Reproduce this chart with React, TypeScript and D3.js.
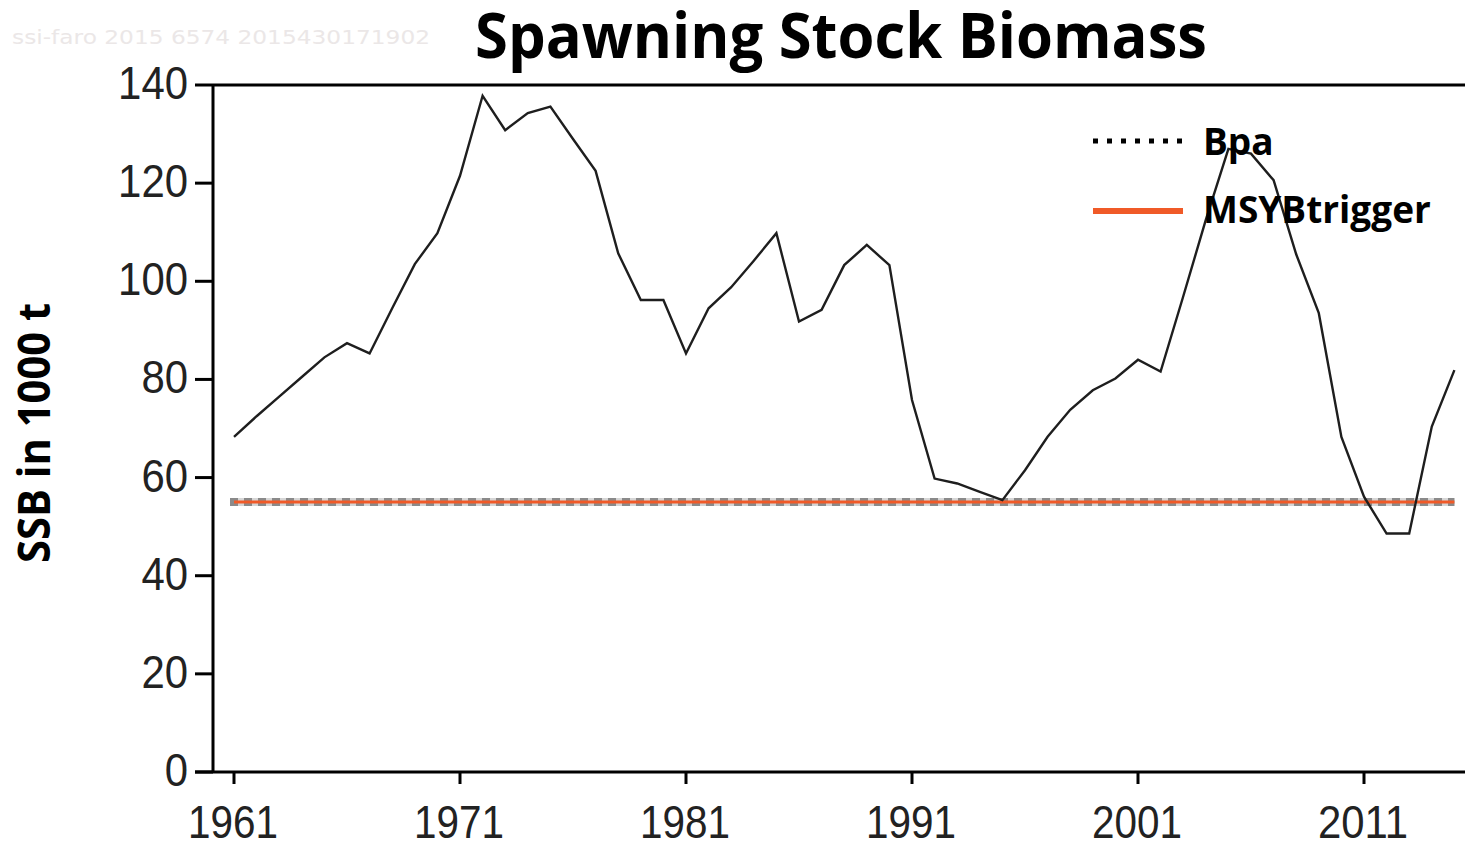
import React, { useEffect, useRef } from 'react';
import * as d3 from 'd3';

// SSB (1000 t) by year
const years: number[] = d3.range(1961, 2016);
const ssb: number[] = [
    68.3, 72.5, 76.5, 80.5, 84.5, 87.4, 85.3, 94.5, 103.5, 109.8,
    121.5, 137.8, 130.8, 134.3, 135.6, 129.0, 122.5, 105.7, 96.2, 96.2,
    85.3, 94.5, 98.8, 104.2, 109.8, 91.8, 94.2, 103.3, 107.4, 103.3,
    75.8, 59.8, 58.8, 57.1, 55.4, 61.5, 68.3, 73.8, 77.8, 80.2,
    84.0, 81.6, 96.9, 112.5, 127.0, 126.0, 120.6, 105.5, 93.5, 68.3,
    56.1, 48.6, 48.6, 70.4, 81.9,
];
const bpa = 55;
const msyBtrigger = 55;
const yTicks: number[] = [0, 20, 40, 60, 80, 100, 120, 140];
const xTicks: number[] = [1961, 1971, 1981, 1991, 2001, 2011];
const legendLabels: string[] = ['Bpa', 'MSYBtrigger'];

const W = 1465;
const H = 843;
const ORANGE = '#F05A28';

const App: React.FC = () => {
    const svgRef = useRef<SVGSVGElement>(null);

    useEffect(() => {
        if (!svgRef.current) return;
        const svg = d3.select(svgRef.current);
        svg.selectAll('*').remove();

        const left = 213;
        const top = 85;
        const bottom = 772;

        const x = d3.scaleLinear().domain([1961, 2011]).range([234, 1364]);
        const y = d3.scaleLinear().domain([0, 140]).range([bottom, top]);

        // watermark
        svg.append('text')
            .attr('x', 12).attr('y', 44)
            .attr('textLength', 418).attr('lengthAdjust', 'spacingAndGlyphs')
            .style('font-family', 'DejaVu Sans').style('font-size', '20px')
            .style('fill', '#ebe7e7')
            .text('ssi-faro  2015  6574  2015430171902');

        // title
        svg.append('text')
            .attr('x', 475).attr('y', 58)
            .attr('textLength', 732).attr('lengthAdjust', 'spacingAndGlyphs')
            .style('font-family', 'Open Sans').style('font-weight', 'bold').style('font-size', '62px')
            .style('fill', '#000')
            .text('Spawning Stock Biomass');

        // y axis label
        svg.append('text')
            .attr('transform', 'translate(50,433) rotate(-90)')
            .attr('text-anchor', 'middle')
            .attr('textLength', 260).attr('lengthAdjust', 'spacingAndGlyphs')
            .style('font-family', 'Open Sans').style('font-weight', 'bold').style('font-size', '44px')
            .style('fill', '#000')
            .text('SSB in 1000 t');

        // reference lines
        svg.append('line')
            .attr('x1', x(1961)).attr('x2', x(2015))
            .attr('y1', y(bpa)).attr('y2', y(bpa))
            .attr('stroke', '#d6d6d6').attr('stroke-width', 8);
        svg.append('line')
            .attr('x1', x(1961) - 4).attr('x2', x(2015))
            .attr('y1', y(bpa)).attr('y2', y(bpa))
            .attr('stroke', '#8a8a8a').attr('stroke-width', 8)
            .attr('stroke-dasharray', '8,6');
        svg.append('line')
            .attr('x1', x(1961)).attr('x2', x(2015))
            .attr('y1', y(msyBtrigger)).attr('y2', y(msyBtrigger))
            .attr('stroke', ORANGE).attr('stroke-width', 3);

        // SSB line
        const line = d3.line<number>()
            .x((_, i) => x(years[i]))
            .y(d => y(d));
        svg.append('path')
            .datum(ssb)
            .attr('d', line)
            .attr('fill', 'none')
            .attr('stroke', '#1e1e1e')
            .attr('stroke-width', 2.4)
            .attr('stroke-linejoin', 'miter');

        // frame: left axis, top line, bottom axis
        const ax = svg.append('g').attr('stroke', '#000').attr('stroke-width', 3);
        ax.append('line').attr('x1', left).attr('x2', left).attr('y1', top).attr('y2', bottom);
        ax.append('line').attr('x1', left).attr('x2', W).attr('y1', top).attr('y2', top);
        ax.append('line').attr('x1', 195).attr('x2', W).attr('y1', bottom).attr('y2', bottom);

        ax.selectAll('line.yt')
            .data(yTicks)
            .enter().append('line')
            .attr('class', 'yt')
            .attr('x1', 195).attr('x2', left)
            .attr('y1', d => y(d)).attr('y2', d => y(d));

        ax.selectAll('line.xt')
            .data(xTicks)
            .enter().append('line')
            .attr('class', 'xt')
            .attr('x1', d => x(d)).attr('x2', d => x(d))
            .attr('y1', bottom).attr('y2', bottom + 12);

        svg.selectAll('text.yl')
            .data(yTicks)
            .enter().append('text')
            .attr('class', 'yl')
            .attr('x', 188)
            .attr('y', d => y(d) + 14)
            .attr('text-anchor', 'end')
            .attr('textLength', d => String(d).length * 23.3)
            .attr('lengthAdjust', 'spacingAndGlyphs')
            .style('font-family', 'Liberation Sans').style('font-size', '46px')
            .style('fill', '#222')
            .text(d => String(d));

        svg.selectAll('text.xl')
            .data(xTicks)
            .enter().append('text')
            .attr('class', 'xl')
            .attr('x', d => x(d) - 1)
            .attr('y', 838)
            .attr('text-anchor', 'middle')
            .attr('textLength', 90)
            .attr('lengthAdjust', 'spacingAndGlyphs')
            .style('font-family', 'Liberation Sans').style('font-size', '46px')
            .style('fill', '#222')
            .text(d => String(d));

        // legend
        const lg = svg.append('g');
        lg.append('line')
            .attr('x1', 1093).attr('x2', 1182).attr('y1', 141).attr('y2', 141)
            .attr('stroke', '#000').attr('stroke-width', 5)
            .attr('stroke-dasharray', '5,9');
        lg.append('line')
            .attr('x1', 1093).attr('x2', 1183).attr('y1', 211).attr('y2', 211)
            .attr('stroke', ORANGE).attr('stroke-width', 6);
        lg.selectAll('text')
            .data(legendLabels)
            .enter().append('text')
            .attr('x', 1203)
            .attr('y', (_, i) => (i === 0 ? 155 : 223))
            .style('font-family', 'Open Sans').style('font-weight', 'bold').style('font-size', '37px')
            .style('fill', '#000')
            .text(d => d);
    }, []);

    return (
        <svg
            ref={svgRef}
            width={W}
            height={H}
            style={{ position: 'absolute', left: 0, top: 0, background: '#fff' }}
        />
    );
};

export default App;
